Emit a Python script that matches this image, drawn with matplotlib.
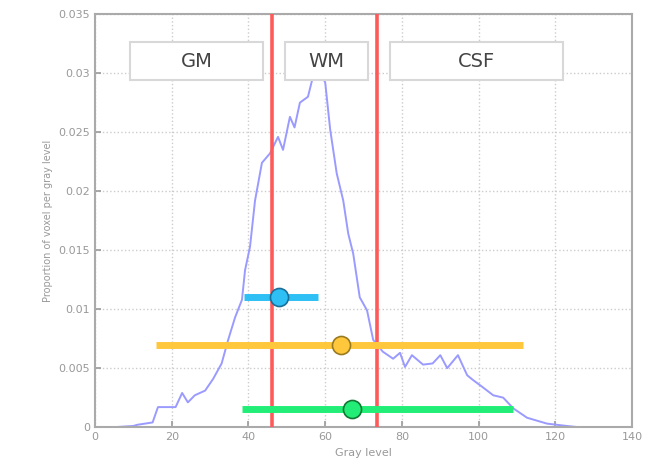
import numpy as np
import matplotlib.pyplot as plt
from matplotlib.patches import Rectangle

# histogram of gray levels
gray = [0, 5, 10, 11, 15, 16.4, 21, 22.7, 24.2, 26, 28.7, 30.8, 33, 34.7, 36.5, 38.3, 39.1,
        40.4, 41.7, 43.5, 45.6, 47.7, 49, 50.8, 52, 53.4, 55.5, 56.8, 58, 60, 61.3, 63, 64.7,
        66, 67.3, 69, 70.9, 72.5, 75, 77.7, 79.5, 80.8, 82.6, 85.5, 88, 90, 91.8, 94.6, 97,
        98.5, 101, 103.8, 106.4, 109, 112.6, 117.8, 123, 126, 130]
prop = [0, 0, 0.0001, 0.0002, 0.0004, 0.0017, 0.0017, 0.0029, 0.0021, 0.0027, 0.0031, 0.0041,
        0.0054, 0.0074, 0.0093, 0.0108, 0.0133, 0.0153, 0.0192, 0.0224, 0.0232, 0.0246, 0.0235,
        0.0263, 0.0254, 0.0275, 0.028, 0.0297, 0.0305, 0.0292, 0.0252, 0.0215, 0.0192, 0.0164,
        0.0147, 0.0110, 0.0099, 0.0074, 0.0064, 0.0058, 0.0063, 0.0051, 0.0061, 0.0053, 0.0054,
        0.0061, 0.005, 0.0061, 0.0044, 0.004, 0.0034, 0.0027, 0.0025, 0.0016, 0.0008, 0.0003,
        0.0001, 0, 0]

thresholds = [46.1, 73.5]

# mean +/- spread of each tissue class
cls_mean = [48, 64, 67]
cls_y = [0.011, 0.007, 0.0015]
cls_lo = [38.8, 15.9, 38.3]
cls_hi = [58.1, 111.6, 109]
cls_color = ['#2ec0f5', '#ffc83c', '#22ee77']
cls_edge = ['#1a6f99', '#9a7a20', '#117733']

labels = ['GM', 'WM', 'CSF']
box_x0 = [9.1, 49.5, 76.9]
box_x1 = [43.8, 71.2, 122]
box_y0, box_y1 = 0.0294, 0.0326

fig = plt.figure(figsize=(6.51, 4.72), dpi=100)
ax = fig.add_axes([0.146, 0.095, 0.825, 0.875])

ax.plot(gray, prop, color='#9a9aff', lw=1.4, zorder=2)

for t in thresholds:
    ax.axvline(t, color='#ff5a5a', lw=2.6, zorder=3)

for m, y, lo, hi, c, e in zip(cls_mean, cls_y, cls_lo, cls_hi, cls_color, cls_edge):
    ax.plot([lo, hi], [y, y], color=c, lw=5, solid_capstyle='butt', zorder=4)
    ax.plot(m, y, 'o', ms=13, color=c, mec=e, mew=1.2, zorder=5)

for lab, a, b in zip(labels, box_x0, box_x1):
    ax.add_patch(Rectangle((a, box_y0), b - a, box_y1 - box_y0, facecolor='white',
                           edgecolor='#d8d8d8', lw=1.5, zorder=6))
    ax.text((a + b) / 2, (box_y0 + box_y1) / 2, lab, ha='center', va='center',
            fontsize=14, color='#444444', zorder=7)

ax.set_xlim(0, 140)
ax.set_ylim(0, 0.035)
ax.set_xticks(np.arange(0, 141, 20))
ax.set_yticks([0, 0.005, 0.01, 0.015, 0.02, 0.025, 0.03, 0.035])
ax.set_yticklabels(['0', '0.005', '0.01', '0.015', '0.02', '0.025', '0.03', '0.035'])
ax.grid(True, ls=':', color='#cccccc', lw=1)
ax.set_axisbelow(True)
for s in ax.spines.values():
    s.set_color('#aaaaaa')
    s.set_linewidth(1.5)
ax.tick_params(colors='#999999', labelsize=8, direction='in', length=4, width=1.2)
ax.set_xlabel('Gray level', fontsize=8, color='#999999')
ax.set_ylabel('Proportion of voxel per gray level', fontsize=7, color='#999999')

fig.savefig('out.png', dpi=100)
